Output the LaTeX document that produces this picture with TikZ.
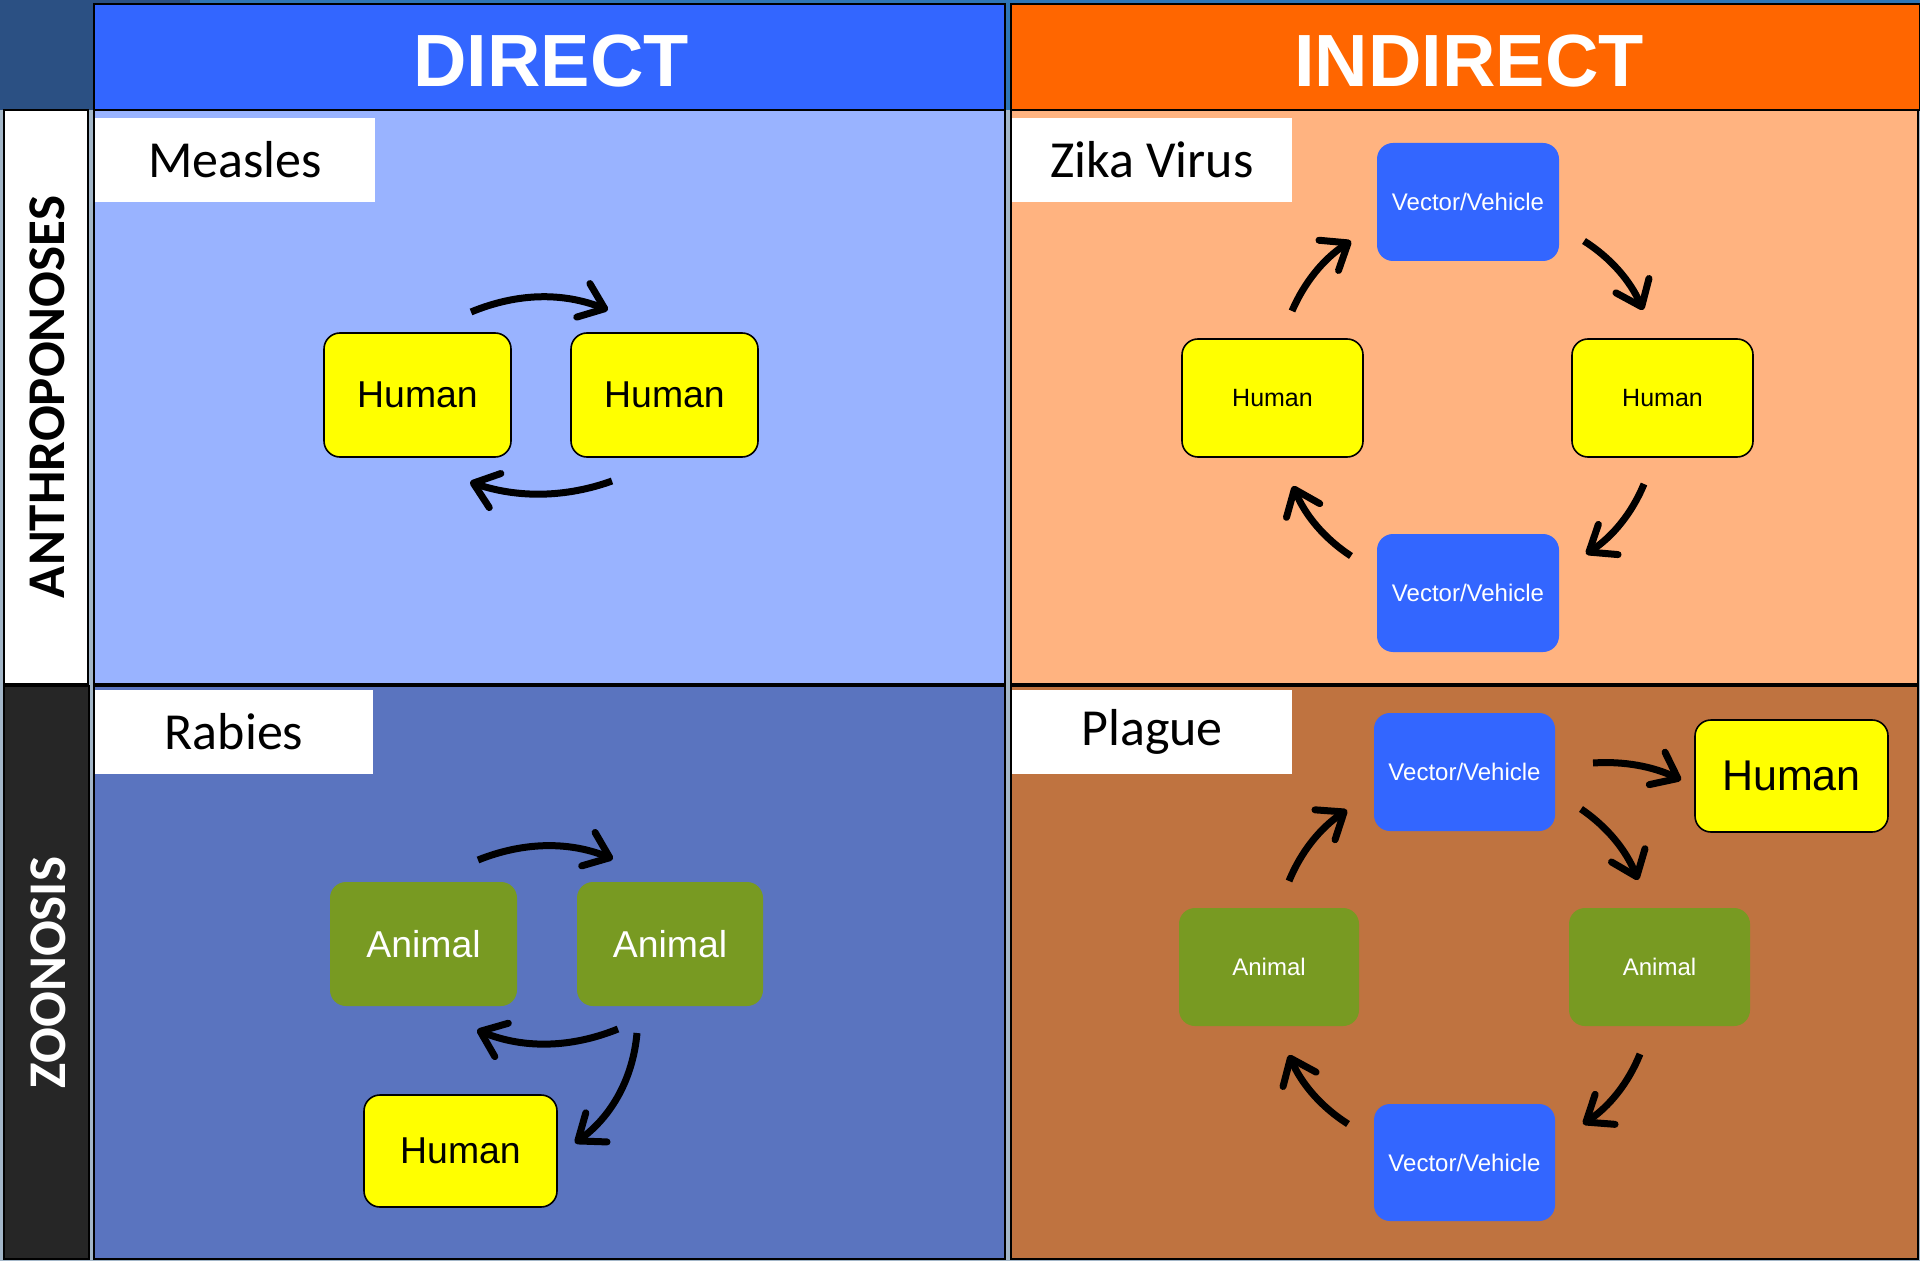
\documentclass[tikz,border=0pt]{standalone}
\usepackage{fontspec}
\setmainfont{Liberation Sans}
\newfontfamily\carlito{Carlito}
\usetikzlibrary{arrows.meta}
\definecolor{hdrblue}{HTML}{3366FF}
\definecolor{hdrorange}{HTML}{FF6600}
\definecolor{measlesbg}{HTML}{99B3FF}
\definecolor{zikabg}{HTML}{FFB380}
\definecolor{rabiesbg}{HTML}{5A74BF}
\definecolor{plaguebg}{HTML}{BF7340}
\definecolor{vecblue}{HTML}{3366FF}
\definecolor{animalgreen}{HTML}{789A22}
\definecolor{humanyellow}{HTML}{FFFF00}
\definecolor{darklabel}{HTML}{262626}
\definecolor{cornerblue}{HTML}{2B5083}
\definecolor{stripblue}{HTML}{2E75B6}
\definecolor{gapgray}{HTML}{A3B6C8}
\begin{document}
\begin{tikzpicture}[x=0.5pt,y=-0.5pt,
  panel/.style={line width=1pt, draw=black},
  titlebox/.style={fill=white, inner sep=0pt, font=\carlito\fontsize{26}{30}\selectfont},
  bx/.style={rounded corners=8pt, inner sep=0pt, align=center},
  humanbox/.style={bx, fill=humanyellow, draw=black, line width=0.8pt, text=black},
  vecbox/.style={bx, fill=vecblue, text=white, font=\fontsize{12}{14}\selectfont, minimum width=91pt, minimum height=59pt},
  animalbox/.style={bx, fill=animalgreen, text=white},
  arr/.style={line width=3.5pt, -{Straight Barb[length=11.5pt,width=18pt,line width=3.5pt,round]}}
]
\useasboundingbox (0,0) rectangle (1920,1261);
% background
\fill[gapgray] (0,0) rectangle (1920,1261);
\fill[stripblue] (0,0) rectangle (1920,110);
\fill[cornerblue] (0,0) rectangle (94,110);
\fill[cornerblue] (0,0) rectangle (190,4);

% headers
\node[panel, fill=hdrblue, minimum width=455.5pt, minimum height=53pt, inner sep=0pt] (hdrdirect) at (549.5,57) {};
\node[panel, fill=hdrorange, minimum width=454.5pt, minimum height=53pt, inner sep=0pt] (hdrindirect) at (1465,57) {};
\node[text=white, font=\bfseries\fontsize{37}{40}\selectfont] (tdirect) at (551,61) {DIRECT};
\node[text=white, font=\bfseries\fontsize{37}{40}\selectfont] (tindirect) at (1469,61) {INDIRECT};

% row labels
\node[panel, fill=white, minimum width=42pt, minimum height=287pt, inner sep=0pt] (lanthro) at (46,397) {};
\node[rotate=90, font=\carlito\bfseries\fontsize{26.5}{30}\selectfont] (tanthro) at (47,397) {ANTHROPONOSES};
\node[panel, fill=darklabel, minimum width=42.5pt, minimum height=286.5pt, inner sep=0pt] (lzoo) at (46.5,972.5) {};
\node[rotate=90, text=white, font=\carlito\bfseries\fontsize{26.5}{30}\selectfont] (tzoo) at (48,972.5) {ZOONOSIS};

% panels
\node[panel, fill=measlesbg, minimum width=455.5pt, minimum height=287pt, inner sep=0pt] (pmeasles) at (549.5,397) {};
\node[panel, fill=zikabg, minimum width=453.5pt, minimum height=287pt, inner sep=0pt] (pzika) at (1464.5,397) {};
\node[panel, fill=rabiesbg, minimum width=455.5pt, minimum height=286.5pt, inner sep=0pt] (prabies) at (549.5,972.5) {};
\node[panel, fill=plaguebg, minimum width=453.5pt, minimum height=286.5pt, inner sep=0pt] (pplague) at (1464.5,972.5) {};

% titles
\node[titlebox, minimum width=140pt, minimum height=42pt] (tmeasles) at (235,160) {Measles};
\node[titlebox, minimum width=140pt, minimum height=42pt] (tzika) at (1152,160) {Zika Virus};
\node[titlebox, minimum width=139pt, minimum height=42pt] (trabies) at (234,732) {Rabies};
\node[titlebox, minimum width=140pt, minimum height=42pt] (tplague) at (1152,732) {Plague};

% ---- Measles
\node[humanbox, minimum width=93.5pt, minimum height=62pt, font=\fontsize{18.7}{20}\selectfont] (mh1) at (417.5,395) {Human};
\node[humanbox, minimum width=93.5pt, minimum height=62pt, font=\fontsize{18.7}{20}\selectfont] (mh2) at (664.5,395) {Human};
\coordinate (ma1) at (471,312); \coordinate (ma2) at (608,310);
\coordinate (mb1) at (612,481); \coordinate (mb2) at (470,482);
\draw[arr] (ma1) .. controls (517,293) and (562,292) .. (ma2);
\draw[arr] (mb1) .. controls (565,498) and (517,498) .. (mb2);

% ---- Zika
\node[vecbox] (zv1) at (1468,202) {Vector/Vehicle};
\node[humanbox, minimum width=90.5pt, minimum height=59pt, font=\fontsize{12.5}{14}\selectfont] (zh1) at (1272.5,398) {Human};
\node[humanbox, minimum width=90.5pt, minimum height=59pt, font=\fontsize{12.5}{14}\selectfont] (zh2) at (1662.5,398) {Human};
\node[vecbox] (zv2) at (1468,593) {Vector/Vehicle};
\coordinate (za1) at (1292,311); \coordinate (za2) at (1351,241);
\coordinate (zb1) at (1584,241); \coordinate (zb2) at (1643,310);
\coordinate (zc1) at (1644,484); \coordinate (zc2) at (1586,554);
\coordinate (zd1) at (1351,556); \coordinate (zd2) at (1293,486);
\draw[arr] (za1) .. controls (1304.6,281.7) and (1324.2,258.3) .. (za2);
\draw[arr] (zb1) .. controls (1610.8,258) and (1630.4,281) .. (zb2);
\draw[arr] (zc1) .. controls (1631.9,513.3) and (1612.5,536.7) .. (zc2);
\draw[arr] (zd1) .. controls (1324.5,538.7) and (1305.1,515.3) .. (zd2);

% ---- Rabies
\node[animalbox, minimum width=93.5pt, minimum height=62pt, font=\fontsize{18.7}{20}\selectfont] (ra1) at (423.5,944) {Animal};
\node[animalbox, minimum width=93pt, minimum height=62pt, font=\fontsize{18.7}{20}\selectfont] (ra2) at (670,944) {Animal};
\node[humanbox, minimum width=96.5pt, minimum height=56pt, font=\fontsize{18.7}{20}\selectfont] (rh) at (460.5,1151) {Human};
\coordinate (ra1s) at (478,860); \coordinate (ra1e) at (613,859);
\coordinate (rb1) at (618,1029); \coordinate (rb2) at (477,1030);
\coordinate (rc1) at (637,1033); \coordinate (rc2) at (575,1143);
\draw[arr] (ra1s) .. controls (523,842) and (568,841) .. (ra1e);
\draw[arr] (rb1) .. controls (571,1048) and (524,1049) .. (rb2);
\draw[arr] (rc1) .. controls (633,1078) and (612,1116) .. (rc2);

% ---- Plague
\node[vecbox, minimum width=90.5pt] (pv1) at (1464.5,772) {Vector/Vehicle};
\node[humanbox, minimum width=96.5pt, minimum height=56pt, font=\fontsize{21.5}{24}\selectfont] (ph) at (1791.5,776) {Human};
\node[animalbox, minimum width=90pt, minimum height=59pt, font=\fontsize{12}{14}\selectfont] (pa1) at (1269,967) {Animal};
\node[animalbox, minimum width=90.5pt, minimum height=59pt, font=\fontsize{12}{14}\selectfont] (pa2) at (1659.5,967) {Animal};
\node[vecbox, minimum width=90.5pt, minimum height=58.5pt] (pv2) at (1464.5,1162.5) {Vector/Vehicle};
\coordinate (pa1s) at (1593,763); \coordinate (pa1e) at (1681,780);
\coordinate (pb1) at (1581,809); \coordinate (pb2) at (1638,880);
\coordinate (pc1) at (1640,1054); \coordinate (pc2) at (1583,1124);
\coordinate (pd1) at (1348,1124); \coordinate (pd2) at (1289,1055);
\coordinate (pe1) at (1289,881); \coordinate (pe2) at (1347,810);
\draw[arr] (pa1s) .. controls (1623.8,760.9) and (1653.2,766.5) .. (pa1e);
\draw[arr] (pb1) .. controls (1607.3,826.9) and (1626.3,850.5) .. (pb2);
\draw[arr] (pc1) .. controls (1628.2,1083.2) and (1609.2,1106.6) .. (pc2);
\draw[arr] (pd1) .. controls (1321.2,1107) and (1301.6,1084) .. (pd2);
\draw[arr] (pe1) .. controls (1301.1,851.4) and (1320.5,827.8) .. (pe2);
\end{tikzpicture}
\end{document}
